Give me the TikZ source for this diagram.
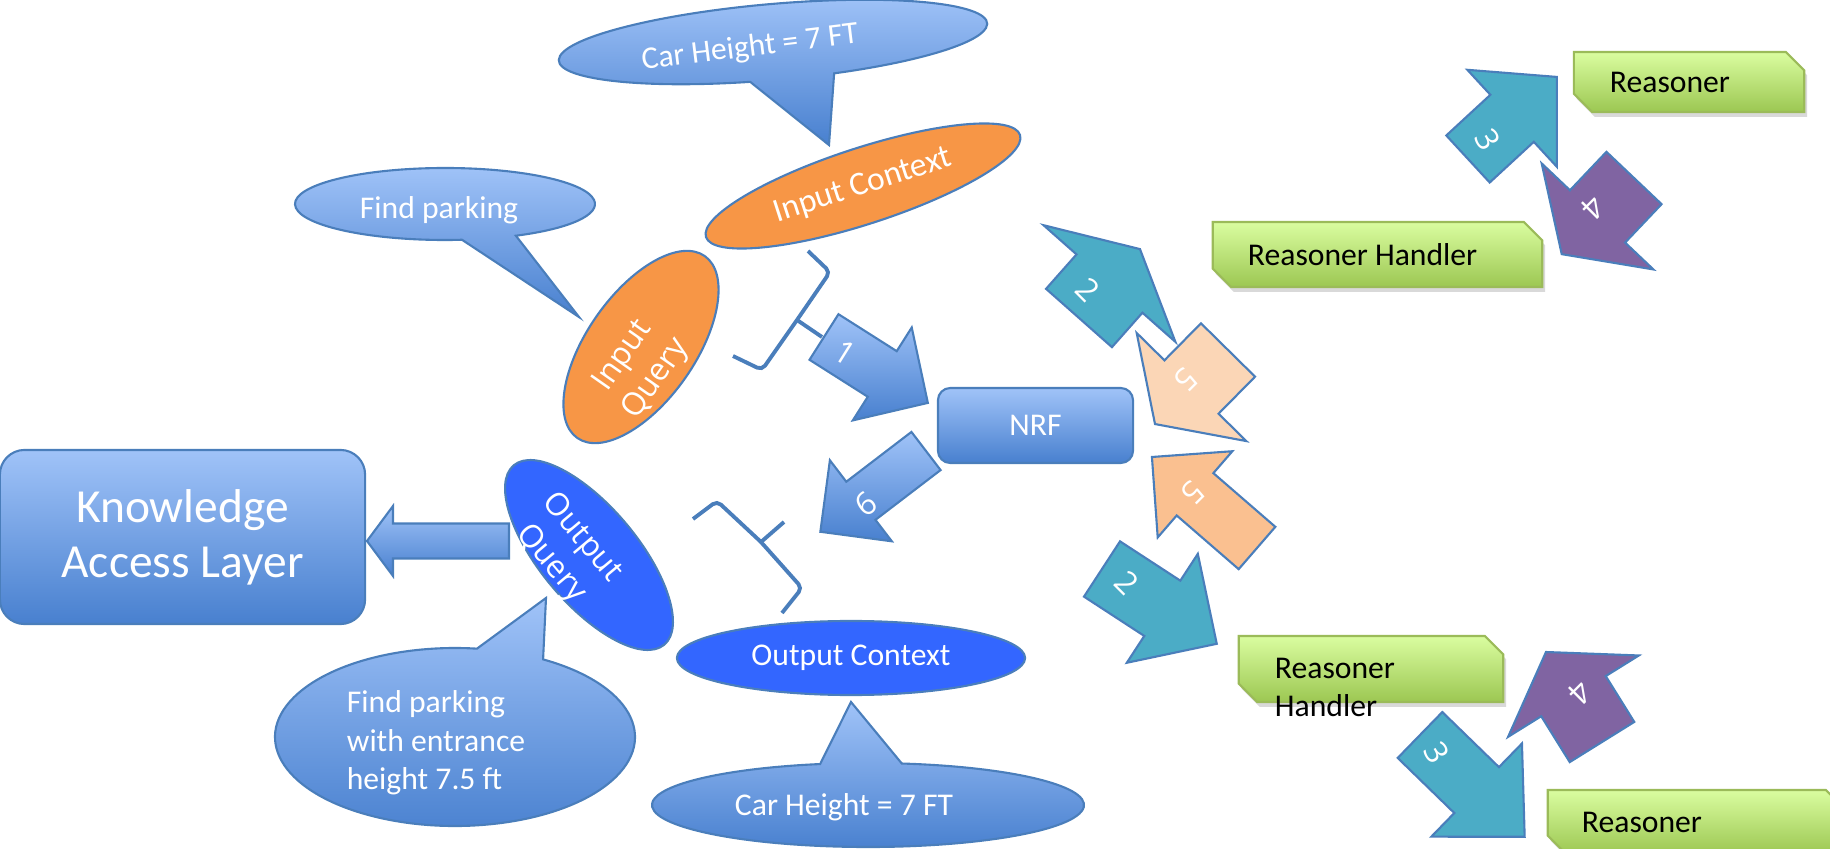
\documentclass[tikz,border=0pt]{standalone}
\usepackage{fontspec}
\setmainfont{Carlito}
\newfontfamily\roundfont{Open Sans}
\usetikzlibrary{shapes.geometric}
\usetikzlibrary{shapes.misc}
\usetikzlibrary{shadows}

\definecolor{lightblue}{HTML}{A0C3F8}
\definecolor{darkblue}{HTML}{4880CF}
\definecolor{lineblue}{HTML}{4A7EBB}
\definecolor{orangefill}{HTML}{F79646}
\definecolor{brightblue}{HTML}{3366FF}
\definecolor{tealfill}{HTML}{4BACC6}
\definecolor{purplefill}{HTML}{8064A2}
\definecolor{peachlight}{HTML}{FBD6B6}
\definecolor{peachfill}{HTML}{FAC090}
\definecolor{greentop}{HTML}{DAFDA0}
\definecolor{greenbot}{HTML}{9CC752}
\definecolor{greenline}{HTML}{9BBB59}

\tikzset{every node/.style={font=\fontsize{9}{11}\selectfont},
         bluegrad/.style={top color=lightblue, bottom color=darkblue},
         outline/.style={draw=lineblue, line width=0.6pt},
         callout/.style={outline, bluegrad},
         calltext/.style={text=white},
         layerbox/.style={outline, bluegrad, rounded corners=7pt, text=white, align=center,
                          font=\fontsize{13.5}{15.6}\selectfont},
         nrfbox/.style={outline, bluegrad, rounded corners=3.5pt, text=white},
         inshape/.style={ellipse, outline, fill=orangefill, text=white, inner sep=0pt},
         outshape/.style={ellipse, outline, fill=brightblue, text=white, inner sep=0pt},
         querytext/.style={text=white, align=center, font=\roundfont\fontsize{9}{11.4}\selectfont},
         numlabel/.style={text=white, font=\roundfont\fontsize{9}{11}\selectfont},
         brace/.style={draw=lineblue, line width=1.1pt, rounded corners=1.5pt},
         reasonerbox/.style={chamfered rectangle, chamfered rectangle corners={north east, south west},
                             chamfered rectangle sep=2.6pt, draw=greenline, line width=0.6pt,
                             top color=greentop, bottom color=greenbot, align=flush left, inner ysep=0pt,
                             drop shadow={shadow xshift=0.8pt, shadow yshift=-1.4pt, opacity=0.3}} }

% [fill]{tail}{angle}{length}{shaft half}{head half}{head length}
\newcommand{\blockarrow}[7][]{%
  \begin{scope}[shift={(#2)}, rotate=#3]
    \path[outline, #1] (0,-#5) -- ({#4-#7},-#5) -- ({#4-#7},-#6) -- (#4,0)
      -- ({#4-#7},#6) -- ({#4-#7},#5) -- (0,#5) -- cycle;
  \end{scope}}

\begin{document}
\begin{tikzpicture}[x=0.01cm, y=-0.01cm]
  \useasboundingbox (0,0) rectangle (1830,849);
  \clip (0,0) rectangle (1830,849);

  % speech bubbles
  \begin{scope}[shift={(773,42)}, rotate=5]
    \path[callout] (97:215 and 38) arc[start angle=97, end angle=434.3, x radius=215, y radius=38]
      -- (46.8,107.5) -- cycle;
  \end{scope}
  \path[callout] (445,204) ++(83.5:150 and 36)
    arc[start angle=83.5, end angle=421.8, x radius=150, y radius=36] -- (579,317) -- cycle;
  \path[callout] (455,737) ++(299.3:180 and 89)
    arc[start angle=299.3, end angle=637, x radius=180, y radius=89] -- (546,598) -- cycle;
  \path[callout] (868,805) ++(279:216 and 42)
    arc[start angle=279, end angle=617.2, x radius=216, y radius=42] -- (851,702) -- cycle;

  \node[calltext, rotate=7] (carheight1) at (750,48) {Car Height = 7 FT};
  \node[calltext] (findparking) at (439,210) {Find parking};
  \node[calltext, align=left, font=\fontsize{9}{10.9}\selectfont] (findentrance) at (436,743)
    {Find parking\\with entrance\\height 7.5 ft};
  \node[calltext] (carheight2) at (844,807) {Car Height = 7 FT};

  % query and context
  \node[inshape, minimum width=3.3cm, minimum height=0.76cm, rotate=18,
        font=\fontsize{9.5}{11}\selectfont] (inctx) at (863,186) {Input Context};
  \node[inshape, minimum width=2.22cm, minimum height=1.08cm, rotate=55] (inquery) at (641,347) {};
  \node[querytext, rotate=55] (inquerytext) at (640,368) {Input\\Query};
  \node[outshape, minimum width=2.34cm, minimum height=0.97cm, rotate=-50] (outquery) at (589,555) {};
  \node[querytext, rotate=-50] (outquerytext) at (566,551) {Output\\Query};
  \node[outshape, minimum width=3.48cm, minimum height=0.74cm] (outctx) at (851,658) {Output Context};

  % boxes
  \node[layerbox, minimum width=3.65cm, minimum height=1.74cm] (kal) at (182.5,537) {Knowledge\\Access Layer};
  \node[nrfbox, minimum width=1.95cm, minimum height=0.75cm] (nrf) at (1035.5,425.5) {NRF};
  \node[reasonerbox, minimum width=2.12cm, minimum height=0.6cm, inner xsep=0.27cm,
        text width=1.58cm] (reasoner1) at (1689,82) {Reasoner};
  \node[reasonerbox, minimum width=3.11cm, minimum height=0.65cm, inner xsep=0.26cm,
        text width=2.59cm] (handler1) at (1377.5,254.5) {Reasoner Handler};
  \node[reasonerbox, minimum width=2.46cm, minimum height=0.66cm, inner xsep=0.27cm,
        text width=1.92cm, text height=1.6ex, text depth=0.5ex] (handler2) at (1371,669) {Reasoner\\Handler};
  \node[reasonerbox, minimum width=2.78cm, minimum height=0.64cm, inner xsep=0.25cm,
        text width=2.28cm] (reasoner2) at (1696,822) {Reasoner};

  % braces
  \draw[brace] (808,251) -- (830,272) -- (797,320) -- (762,370) -- (733,356);
  \draw[brace] (797,320) -- (822,337);
  \draw[brace] (693,519) -- (717,501) -- (761,542) -- (802,588) -- (782,613);
  \draw[brace] (761,542) -- (784,522);

  % block arrows
  \blockarrow[bluegrad]{824,337}{-32.4}{123}{27}{55}{54}
  \blockarrow[bluegrad]{926,451}{-142.6}{133}{24}{51}{51}
  \blockarrow[bluegrad]{509,541}{180}{142}{17.5}{35}{26}
  \blockarrow[fill=tealfill]{1079,318}{48.5}{92}{44}{88}{46}
  \blockarrow[fill=peachlight]{1228,350}{-134.6}{104}{38}{77}{52}
  \blockarrow[fill=peachfill]{1257,548}{139.1}{139}{28}{57}{57}
  \blockarrow[fill=tealfill]{1102,569}{-33.1}{137}{33}{65}{65}
  \blockarrow[fill=tealfill]{1468,159}{42.7}{121}{32}{66}{61}
  \blockarrow[fill=purplefill]{1634,178}{-133.5}{105}{38}{77}{52}
  \blockarrow[fill=tealfill]{1420,735}{-44.2}{146}{32}{65}{67}
  \blockarrow[fill=purplefill]{1602,742}{121.9}{106}{38}{77}{52}

  % step numbers
  \node[numlabel, rotate=-32] (step1) at (845,353) {1};
  \node[numlabel, rotate=37] (step6) at (866,504) {6};
  \node[numlabel, rotate=-45] (step2a) at (1088,290) {2};
  \node[numlabel, rotate=-45] (step2b) at (1127,583) {2};
  \node[numlabel, rotate=-135] (step5a) at (1186,380) {5};
  \node[numlabel, rotate=-135] (step5b) at (1193,493) {5};
  \node[numlabel, rotate=-60] (step3a) at (1488,140) {3};
  \node[numlabel, rotate=-60] (step3b) at (1437,753) {3};
  \node[numlabel, rotate=-135] (step4a) at (1593,208) {4};
  \node[numlabel, rotate=-135] (step4b) at (1580,693) {4};
\end{tikzpicture}
\end{document}
